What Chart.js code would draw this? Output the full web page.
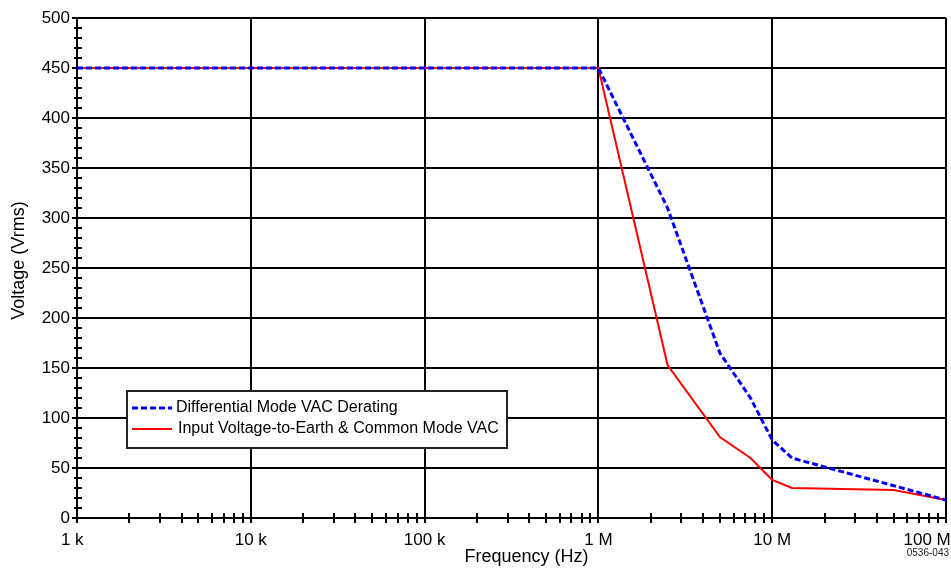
<!DOCTYPE html>
<html>
<head>
<meta charset="utf-8">
<script src="https://cdn.jsdelivr.net/npm/chart.js@4/dist/chart.umd.min.js"></script>
<style>
  body { margin: 0; background: #fff; }
  canvas { display: block; }
</style>
</head>
<body>
<canvas id="deratingChart" width="951" height="581"></canvas>
<script>
// data
const diffFreq = [1e3, 1e6, 2.5e6, 5e6, 7.5e6, 1e7, 1.3e7, 1e8];
const diffVolt = [450, 450, 310, 165, 120, 78, 60, 18];
const earthFreq = [1e3, 1e6, 2.5e6, 5e6, 7.5e6, 1e7, 1.3e7, 5e7, 1e8];
const earthVolt = [450, 450, 153, 81, 60, 38, 30, 28, 18];

const seriesLabels = ['Differential Mode VAC Derating', 'Input Voltage-to-Earth & Common Mode VAC'];
const decadeValues = [1e3, 1e4, 1e5, 1e6, 1e7, 1e8];
const decadeLabels = ['1 k\u2007', '10 k', '100 k', '1 M', '10 M', '100 M\u2007\u2007\u2007\u2007'];
const voltTicks = [0, 50, 100, 150, 200, 250, 300, 350, 400, 450, 500];

const FONT = "'Liberation Sans', Arial, sans-serif";

function toPoints(xs, ys) {
    return xs.map((x, i) => ({ x: x, y: ys[i] }));
}

function isDecade(v) {
    const l = Math.log10(v);
    return Math.abs(l - Math.round(l)) < 1e-9;
}

// extra marks: crossing minor ticks, in-plot legend, drawing number
const overlay = {
    id: 'overlay',
    afterDraw(chart) {
        const { ctx, chartArea, scales: { x, y } } = chart;
        ctx.save();
        ctx.strokeStyle = '#000';
        ctx.lineWidth = 2;
        ctx.beginPath();
        x.ticks.forEach(t => {
            const px = Math.round(x.getPixelForValue(t.value));
            ctx.moveTo(px, chartArea.bottom - 5);
            ctx.lineTo(px, chartArea.bottom + 5);
        });
        y.ticks.forEach(t => {
            const py = Math.round(y.getPixelForValue(t.value));
            if (t.value % 50 === 0) {
                ctx.moveTo(chartArea.left - 5, py);
                ctx.lineTo(chartArea.left, py);
            } else {
                ctx.moveTo(chartArea.left - 3, py);
                ctx.lineTo(chartArea.left + 5, py);
            }
        });
        ctx.stroke();

        // legend box
        const bx = chartArea.left + 50, by = chartArea.top + 373;
        ctx.fillStyle = '#fff';
        ctx.fillRect(bx, by, 380, 57);
        ctx.strokeStyle = '#222';
        ctx.lineWidth = 2;
        ctx.strokeRect(bx, by, 380, 57);
        ctx.font = '16px ' + FONT;
        ctx.textBaseline = 'middle';
        ctx.fillStyle = '#000';
        chart.data.datasets.forEach((ds, i) => {
            const ly = by + 17 + i * 21;
            ctx.beginPath();
            ctx.strokeStyle = ds.borderColor;
            ctx.lineWidth = ds.borderWidth;
            ctx.setLineDash(ds.borderDash || []);
            ctx.moveTo(bx + 5, ly);
            ctx.lineTo(bx + 45, ly);
            ctx.stroke();
            ctx.setLineDash([]);
            ctx.fillText(ds.label, bx + 49 + i * 2, ly);
        });

        ctx.font = '10px ' + FONT;
        ctx.textAlign = 'right';
        ctx.textBaseline = 'alphabetic';
        ctx.fillStyle = '#222';
        ctx.fillText('0536-043', 949, 556);
        ctx.restore();
    }
};

const config = {
    type: 'line',
    data: {
        datasets: [{
            label: seriesLabels[0],
            data: toPoints(diffFreq, diffVolt),
            borderColor: '#0000ff',
            borderWidth: 3,
            borderDash: [6, 3],
            pointRadius: 0,
            tension: 0
        }, {
            label: seriesLabels[1],
            data: toPoints(earthFreq, earthVolt),
            borderColor: '#ff0000',
            borderWidth: 2,
            pointRadius: 0,
            tension: 0
        }]
    },
    options: {
        responsive: false,
        animation: false,
        layout: { padding: { top: 18, right: 5, left: 0, bottom: 0 } },
        plugins: {
            legend: { display: false },
            tooltip: { enabled: false }
        },
        scales: {
            x: {
                type: 'logarithmic',
                min: 1e3,
                max: 1e8,
                afterBuildTicks(scale) {
                    const ticks = [];
                    decadeValues.forEach((d, i) => {
                        ticks.push({ value: d });
                        if (i < decadeValues.length - 1) {
                            for (let m = 2; m <= 9; m++) ticks.push({ value: d * m });
                        }
                    });
                    scale.ticks = ticks;
                },
                afterFit(scale) {
                    scale.height = 63;
                    scale.paddingLeft = 0;
                    scale.paddingRight = 0;
                },
                ticks: {
                    autoSkip: false,
                    maxRotation: 0,
                    padding: 12,
                    color: '#000',
                    font: { family: FONT, size: 17 },
                    callback(value) {
                        const i = decadeValues.findIndex(d => Math.abs(d - value) / d < 1e-9);
                        return i >= 0 ? decadeLabels[i] : '';
                    }
                },
                grid: {
                    drawTicks: false,
                    lineWidth: 2,
                    color: ctx => (ctx.tick && isDecade(ctx.tick.value)) ? '#000' : 'rgba(0,0,0,0)'
                },
                border: { display: true, color: '#000', width: 2 },
                title: {
                    display: true,
                    text: '      Frequency (Hz)',
                    color: '#000',
                    font: { family: FONT, size: 18 },
                    padding: { top: 0, bottom: 13 }
                }
            },
            y: {
                min: 0,
                max: 500,
                afterFit(scale) {
                    scale.width = 77;
                },
                ticks: {
                    stepSize: 10,
                    autoSkip: false,
                    padding: 7,
                    color: '#000',
                    font: { family: FONT, size: 17 },
                    callback: value => voltTicks.includes(value) ? String(value) : ''
                },
                grid: {
                    drawTicks: false,
                    lineWidth: 2,
                    color: ctx => (ctx.tick && ctx.tick.value % 50 === 0) ? '#000' : 'rgba(0,0,0,0)'
                },
                border: { display: true, color: '#000', width: 2 },
                title: {
                    display: true,
                    text: '   Voltage (Vrms)',
                    color: '#000',
                    font: { family: FONT, size: 18 },
                    padding: { top: 8, bottom: 0 }
                }
            }
        }
    },
    plugins: [overlay]
};

new Chart(document.getElementById('deratingChart'), config);
</script>
</body>
</html>
